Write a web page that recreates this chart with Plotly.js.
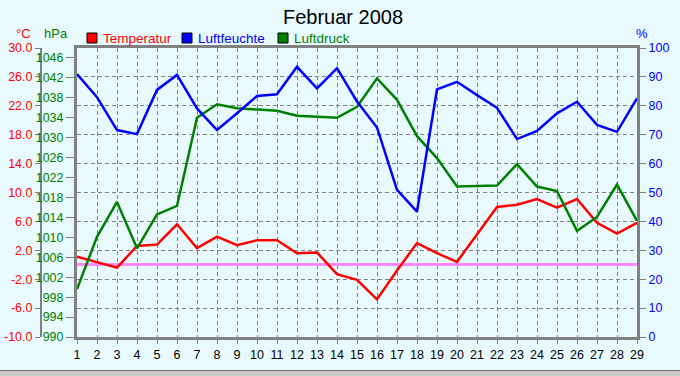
<!DOCTYPE html>
<html><head><meta charset="utf-8">
<script src="https://cdn.plot.ly/plotly-3.0.1.min.js"></script>
<style>html,body{margin:0;padding:0;background:#E8FAFD;}</style>
</head><body><div id="chart" style="width:680px;height:376px;"></div>
<script>
const days = [1,2,3,4,5,6,7,8,9,10,11,12,13,14,15,16,17,18,19,20,21,22,23,24,25,26,27,28,29];
const temperatur = [1.1,0.4,-0.4,2.6,2.8,5.6,2.3,3.9,2.7,3.4,3.4,1.6,1.7,-1.3,-2.1,-4.8,-0.8,3.0,1.6,0.4,4.2,8.0,8.3,9.1,7.9,9.1,5.8,4.3,5.8];
const luftfeuchte = [91,83,71.6,70.2,85.5,90.7,79.1,71.6,77.4,83.4,84,93.5,86,93,81.5,72.5,50.9,43.4,85.7,88.3,83.7,79.3,68.5,71.3,77.4,81.4,73.4,71,82.6];
const luftdruck = [999.6,1010.1,1017.1,1007.8,1014.6,1016.3,1034.0,1036.7,1035.9,1035.6,1035.4,1034.4,1034.2,1034.0,1036.2,1041.9,1037.6,1030.3,1025.9,1020.2,1020.3,1020.4,1024.7,1020.2,1019.3,1011.3,1014.1,1020.6,1013.3];
const tempTicks = [-10,-6,-2,2,6,10,14,18,22,26,30];
const pressTicks = [990,994,998,1002,1006,1010,1014,1018,1022,1026,1030,1034,1038,1042,1046];
const humTicks = [0,10,20,30,40,50,60,70,80,90,100];

const W = 680, H = 376, L = 77, R = 637, T = 48, B = 337;
const px = x => x / R;                 // paper x (margin l = 0)
const py = y => (B - y) / (B - T);     // paper y
const FONT = 'Liberation Sans, Arial, sans-serif';
const GRAY = '#808080';

const traces = [
  {x: days, y: luftdruck, yaxis: 'y2', mode: 'lines', line: {color: '#008000', width: 2.5}, showlegend: false},
  {x: days, y: luftfeuchte, yaxis: 'y3', mode: 'lines', line: {color: '#0000FF', width: 2.5}, showlegend: false},
  {x: days, y: temperatur, yaxis: 'y', mode: 'lines', line: {color: '#FF0000', width: 2.5}, showlegend: false}
];

const legendItems = [
  {name: 'Temperatur', color: '#FF0000', x: 87},
  {name: 'Luftfeuchte', color: '#0000FF', x: 182},
  {name: 'Luftdruck', color: '#008000', x: 278}
];
const shapes = [], annotations = [];
legendItems.forEach(it => {
  shapes.push({type: 'rect', xref: 'paper', yref: 'paper', x0: px(it.x), x1: px(it.x + 10), y0: py(43), y1: py(33),
    fillcolor: it.color, line: {color: '#000', width: 1}});
  annotations.push({xref: 'paper', yref: 'paper', x: px(it.x + 14), y: py(38.5), xanchor: 'left', yanchor: 'middle',
    text: it.name, showarrow: false, font: {family: FONT, size: 13.5, color: it.color}});
});
annotations.push({xref: 'paper', yref: 'paper', x: px(24), y: py(33), xanchor: 'center', yanchor: 'middle', text: '°C', showarrow: false, font: {family: FONT, size: 13, color: '#FF0000'}});
annotations.push({xref: 'paper', yref: 'paper', x: px(56), y: py(33), xanchor: 'center', yanchor: 'middle', text: 'hPa', showarrow: false, font: {family: FONT, size: 13, color: '#008000'}});
annotations.push({xref: 'paper', yref: 'paper', x: px(642), y: py(33), xanchor: 'center', yanchor: 'middle', text: '%', showarrow: false, font: {family: FONT, size: 13, color: '#0000FF'}});
annotations.push({xref: 'paper', yref: 'paper', x: px(343), y: py(17), xanchor: 'center', yanchor: 'middle', text: 'Februar 2008', showarrow: false, font: {family: FONT, size: 20, color: '#000'}});
shapes.push({type: 'rect', xref: 'paper', yref: 'paper', x0: 0, x1: px(W), y0: py(376), y1: py(371), fillcolor: '#C8C8C8', line: {width: 0}, layer: 'above'});
shapes.push({type: 'line', xref: 'paper', yref: 'paper', x0: 0, x1: px(W), y0: py(370.5), y1: py(370.5), line: {color: '#6E6E6E', width: 1}, layer: 'above'});

const layout = {
  width: W, height: H,
  margin: {l: 0, r: W - R, t: T, b: H - B, pad: 0},
  paper_bgcolor: '#E8FAFD', plot_bgcolor: '#E8FAFD',
  showlegend: false,
  xaxis: {domain: [px(L), 1], range: [1, 29], tickvals: days, ticktext: days.map(String),
    showgrid: true, gridcolor: GRAY, griddash: '4px,3px', gridwidth: 1,
    showline: true, linecolor: GRAY, linewidth: 3, mirror: true,
    ticks: 'outside', ticklen: 4, tickcolor: GRAY, tickwidth: 1,
    tickfont: {family: FONT, size: 12.5, color: '#000'}, zeroline: false, fixedrange: true},
  yaxis: {anchor: 'free', position: px(41), side: 'left', range: [-10, 30], tickvals: tempTicks,
    ticktext: tempTicks.map(v => v.toFixed(1)),
    showgrid: true, gridcolor: GRAY, griddash: '4px,3px', gridwidth: 1,
    zeroline: true, zerolinecolor: '#FF88FF', zerolinewidth: 3,
    showline: true, linecolor: GRAY, linewidth: 2,
    ticks: 'outside', ticklen: 5, tickcolor: GRAY, tickwidth: 1,
    tickfont: {family: FONT, size: 12.5, color: '#FF0000'}, fixedrange: true},
  yaxis2: {overlaying: 'y', anchor: 'x', side: 'left', range: [990, 1048], tickvals: pressTicks,
    showgrid: false, zeroline: false, showline: true, linecolor: GRAY, linewidth: 3,
    ticks: 'outside', ticklen: 8, tickcolor: GRAY, tickwidth: 1,
    tickfont: {family: FONT, size: 12.5, color: '#008000'}, fixedrange: true},
  yaxis3: {overlaying: 'y', anchor: 'x', side: 'right', range: [0, 100], tickvals: humTicks,
    showgrid: false, zeroline: false, showline: true, linecolor: GRAY, linewidth: 3,
    ticks: 'outside', ticklen: 6, tickcolor: GRAY, tickwidth: 1,
    tickfont: {family: FONT, size: 12.5, color: '#0000FF'}, fixedrange: true},
  shapes: shapes, annotations: annotations, hovermode: false
};
Plotly.newPlot('chart', traces, layout, {staticPlot: true, displayModeBar: false});
</script></body></html>
